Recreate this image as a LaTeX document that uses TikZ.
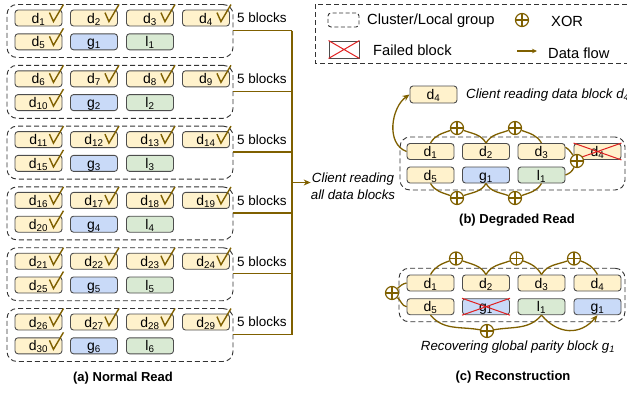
\documentclass[tikz,border=0pt]{standalone}
\usepackage{fontspec}
\setmainfont{Liberation Sans}
\usetikzlibrary{calc,arrows.meta}
\definecolor{brn}{HTML}{7F6000}
\definecolor{yel}{HTML}{FFF2CC}
\definecolor{blu}{HTML}{C9DAF8}
\definecolor{grn}{HTML}{D9EAD3}
\definecolor{bdr}{HTML}{4D4D4D}
\definecolor{dsh}{HTML}{333333}
\definecolor{rd}{HTML}{E02020}
\newcommand\sbs[1]{\textsubscript{#1}}
\tikzset{
  blk/.style={draw=bdr, line width=0.9pt, rounded corners=3pt, minimum width=47pt, minimum height=16pt, inner sep=0pt, text height=10pt, text depth=0pt, font=\fontsize{14}{16}\selectfont},
  dblk/.style={blk, fill=yel},
  gblk/.style={blk, fill=blu},
  lblk/.style={blk, fill=grn},
  clus/.style={draw=dsh, dash pattern=on 5pt off 3pt, line width=0.9pt, rounded corners=10pt, inner sep=0pt},
  flow/.style={draw=brn, line width=1.3pt},
  arr/.style={flow, -{Stealth[length=7pt,width=6pt]}},
  chk/.style={draw=brn, line width=1.4pt, line join=miter},
  xor/.style={circle, draw=brn, fill=white, line width=1.2pt, minimum size=13pt, inner sep=0pt,
    path picture={\draw[brn, line width=1.2pt] (path picture bounding box.north) -- (path picture bounding box.south) (path picture bounding box.west) -- (path picture bounding box.east);}},
  fail/.style={draw=rd, line width=1pt},
  lbl/.style={font=\fontsize{13.5}{15}\selectfont, inner sep=0pt},
  itl/.style={font=\fontsize{13.3}{17}\selectfont\itshape, inner sep=0pt},
  lgd/.style={font=\fontsize{14.7}{17}\selectfont, inner sep=0pt, anchor=west},
  captxt/.style={font=\fontsize{13}{15}\selectfont\bfseries, inner sep=0pt},
}
\begin{document}
\begin{tikzpicture}[x=1pt,y=1pt]
\useasboundingbox (0,0) rectangle (627,-394);
\clip (0,0) rectangle (627,-394);

% ---------- (a) Normal Read ----------
\coordinate (bus) at (292,-182.5);
\foreach \k in {1,...,6} {
  \pgfmathsetmacro\ctop{4.5+60.8*(\k-1)}
  \pgfmathtruncatemacro\da{5*(\k-1)+1}
  \pgfmathtruncatemacro\db{5*(\k-1)+2}
  \pgfmathtruncatemacro\dc{5*(\k-1)+3}
  \pgfmathtruncatemacro\dd{5*(\k-1)+4}
  \pgfmathtruncatemacro\de{5*(\k-1)+5}
  \node[clus, minimum width=226pt, minimum height=53pt] (c\k) at (120,-\ctop-26.5) {};
  \node[dblk] (a\k-1) at (38.5,-\ctop-13.5) {d\sbs{\da}};
  \node[dblk] (a\k-2) at (94,-\ctop-13.5) {d\sbs{\db}};
  \node[dblk] (a\k-3) at (150,-\ctop-13.5) {d\sbs{\dc}};
  \node[dblk] (a\k-4) at (206,-\ctop-13.5) {d\sbs{\dd}};
  \node[dblk] (a\k-5) at (38.5,-\ctop-37.3) {d\sbs{\de}};
  \node[gblk] (a\k-g) at (94,-\ctop-37.3) {g\sbs{\k}};
  \node[lblk] (a\k-l) at (150,-\ctop-37.3) {l\sbs{\k}};
  \foreach \j in {1,...,5}
    \draw[chk] ($(a\k-\j.north east)+(-13,-3)$) -- ++(4,-9) -- ++(10,17);
  \node[lbl, anchor=west] (b\k) at (237,-\ctop-13.5) {5 blocks};
  \draw[flow] ([yshift=0.5pt]c\k.east) -- ([yshift=0.5pt]c\k.east -| bus);
}
\draw[flow] ([yshift=0.5pt]c1.east -| bus) -- ([yshift=0.5pt]c6.east -| bus);
\node[itl, align=center] (cr) at (353,-186) {Client reading\\all data blocks};
\draw[arr] (bus) -- (bus -| cr.west);
\node[captxt] (capa) at (123,-378) {(a) Normal Read};

% ---------- legend ----------
\draw[draw=dsh, dash pattern=on 5pt off 3pt, line width=0.9pt] (315,-4) rectangle (640,-63);
\node[draw=dsh, dash pattern=on 4pt off 2.5pt, line width=0.9pt, rounded corners=3pt, minimum width=31pt, minimum height=14pt, inner sep=0pt] (lg1) at (343.5,-20) {};
\node[lgd] (lt1) at (367,-21) {Cluster/Local group};
\node[xor] (lgx) at (522,-20) {};
\node[lgd] (lt2) at (551,-21) {XOR};
\node[draw=bdr, line width=0.9pt, minimum width=30pt, minimum height=17pt, inner sep=0pt] (lgf) at (344,-49.5) {};
\draw[fail] (lgf.north west) -- (lgf.south east) (lgf.north east) -- (lgf.south west);
\node[lgd] (lt3) at (373,-50) {Failed block};
\coordinate (lga1) at (517,-51);
\coordinate (lga2) at (537,-51);
\draw[flow, line width=1.1pt, -{Stealth[length=5pt,width=4.5pt]}] (lga1) -- (lga2);
\node[lgd] (lt4) at (548,-53) {Data flow};

% ---------- (b) Degraded Read ----------
\node[clus, minimum width=225pt, minimum height=53pt] (cb) at (512.5,-163.5) {};
\node[dblk] (bd1) at (430.5,-151.5) {d\sbs{1}};
\node[dblk] (bd2) at (486,-151.5) {d\sbs{2}};
\node[dblk] (bd3) at (541.5,-151.5) {d\sbs{3}};
\node[dblk] (bd4) at (597.5,-151.5) {d\sbs{4}};
\draw[fail] (bd4.north west) -- (bd4.south east) (bd4.north east) -- (bd4.south west);
\node[dblk] (bd5) at (430.5,-175) {d\sbs{5}};
\node[gblk] (bg1) at (486,-175) {g\sbs{1}};
\node[lblk] (bl1) at (541.5,-175) {l\sbs{1}};
\node[dblk, minimum height=17pt] (bd4s) at (433.5,-94.5) {d\sbs{4}};
\node[itl, anchor=west] (bt) at (466,-95) {Client reading data block d\sbs{4}};
\node[xor] (xb1) at (457,-128) {};
\node[xor] (xb2) at (515,-128) {};
\node[xor] (xb3) at (577,-161) {};
\node[xor] (xb4) at (457,-198) {};
\node[xor] (xb5) at (515,-198) {};
\draw[flow] (bd1.north) to[out=60,in=200] (xb1);
\draw[flow] (xb1) to[out=-20,in=120] (bd2.north);
\draw[flow] (bd2.north) to[out=60,in=200] (xb2);
\draw[flow] (xb2) to[out=-20,in=120] (bd3.north);
\draw[flow] (bd3.10) to[out=-30,in=125] (xb3);
\draw[flow] (bl1.east) to[out=20,in=-115] (xb3);
\draw[flow] (bd5.south) to[out=-60,in=160] (xb4);
\draw[flow] (xb4) to[out=20,in=-120] (bg1.south);
\draw[flow] (bg1.south) to[out=-60,in=160] (xb5);
\draw[flow] (xb5) to[out=20,in=-120] (bl1.south);
\draw[arr] (bd1.west) to[out=160,in=215] (bd4s.west);
\node[captxt] (capb) at (517,-220) {(b) Degraded Read};

% ---------- (c) Reconstruction ----------
\node[clus, minimum width=226pt, minimum height=53.5pt] (cc) at (512,-295) {};
\node[dblk] (cd1) at (430.5,-283) {d\sbs{1}};
\node[dblk] (cd2) at (486,-283) {d\sbs{2}};
\node[dblk] (cd3) at (541.5,-283) {d\sbs{3}};
\node[dblk] (cd4) at (597.5,-283) {d\sbs{4}};
\node[dblk] (cd5) at (430.5,-306.7) {d\sbs{5}};
\node[gblk] (cgx) at (486,-306.7) {g\sbs{1}};
\draw[fail] (cgx.north west) -- (cgx.south east) (cgx.north east) -- (cgx.south west);
\node[lblk] (cl1) at (541.5,-306.7) {l\sbs{1}};
\node[gblk] (cg1) at (597.5,-306.7) {g\sbs{1}};
\node[xor] (xc1) at (456,-258.5) {};
\node[xor] (xc2) at (516.5,-258.5) {};
\node[xor] (xc3) at (574,-258.5) {};
\node[xor] (xc0) at (392,-293) {};
\node[xor] (xc4) at (487,-331) {};
\draw[flow] (cd1.west) to[out=190,in=40] (xc0);
\draw[flow] (cd5.west) to[out=170,in=-40] (xc0);
\draw[flow] (cd1.north) to[out=60,in=200] (xc1);
\draw[flow] (xc1) to[out=-20,in=120] (cd2.north);
\draw[flow] (cd2.north) to[out=60,in=200] (xc2);
\draw[flow] (xc2) to[out=-20,in=120] (cd3.north);
\draw[flow] (cd3.north) to[out=60,in=200] (xc3);
\draw[flow] (xc3) to[out=-20,in=120] (cd4.north);
\draw[flow] (cd5.south) to[out=-50,in=170] (xc4);
\draw[flow] (xc4) to[out=10,in=-130] (cl1.south);
\draw[arr] (cl1.south) to[out=-50,in=-130,looseness=1.2] (cg1.south);
\node[itl] (rt) at (518,-347) {Recovering global parity block g\sbs{1}};
\node[captxt] (capc) at (513,-377) {(c) Reconstruction};
\end{tikzpicture}
\end{document}
